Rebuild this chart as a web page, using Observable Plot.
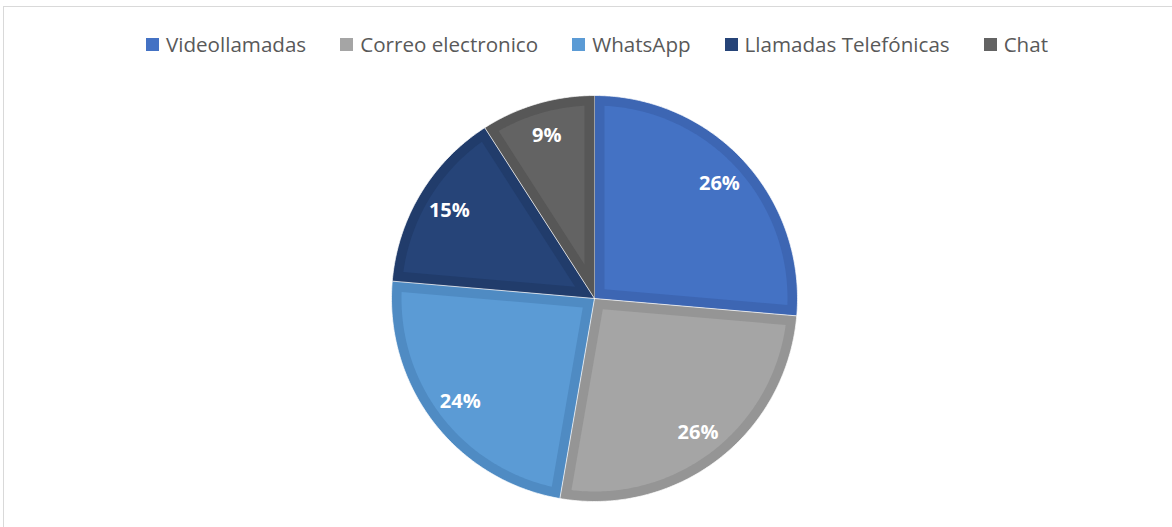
<!DOCTYPE html>
<html>
<head>
<meta charset="utf-8">
<script src="https://cdn.jsdelivr.net/npm/d3@7"></script>
<script src="https://cdn.jsdelivr.net/npm/@observablehq/plot@0.6"></script>
<style>
  html, body { margin: 0; padding: 0; background: #fff; }
  #wrap { position: relative; width: 1172px; height: 527px; overflow: hidden; background: #fff; }
  #frame { position: absolute; left: 3px; top: 6px; width: 1200px; height: 600px; border: 1.5px solid #d9d9d9; box-sizing: border-box; }
  #legend { position: absolute; top: 30px; left: 11px; width: 1172px; display: flex; justify-content: center; gap: 34px;
            font-family: "Open Sans", sans-serif; font-size: 20.6px; color: #595959; }
  .item { display: flex; align-items: center; gap: 7px; white-space: nowrap; }
  .sw { width: 13px; height: 13px; display: inline-block; }
  #chart { position: absolute; left: 0; top: 0; }
</style>
</head>
<body>
<div id="wrap">
  <div id="frame"></div>
  <div id="chart"></div>
  <div id="legend"></div>
</div>
<script>
const categories = ["Videollamadas", "Correo electronico", "WhatsApp", "Llamadas Telefónicas", "Chat"];
const values = [29, 29, 26, 16, 10];
const innerColors = ["#4472C4", "#A5A5A5", "#5B9BD5", "#264478", "#636363"];
const outerColors = ["#3D66B3", "#959595", "#4F8BC3", "#213C6B", "#575757"];

const W = 1172, H = 527;
const cx = 594, cy = 298, R = 203; // pixel layout of the pie
const inset = 10 / R;
const labelR = 0.835;

const total = d3.sum(values);
const arcs = d3.pie().sort(null).value(d => d)(values);

function pt(a, r) { return [Math.sin(a) * r, Math.cos(a) * r]; }

const outerPts = [], innerPts = [], labels = [];
arcs.forEach((a, i) => {
  const cat = categories[i];
  const a0 = a.startAngle, a1 = a.endAngle;
  outerPts.push({cat, x: 0, y: 0});
  const n = Math.max(8, Math.ceil((a1 - a0) * 80));
  for (let k = 0; k <= n; k++) {
    const t = a0 + (a1 - a0) * k / n;
    const [x, y] = pt(t, 1);
    outerPts.push({cat, x, y});
  }
  const half = (a1 - a0) / 2;
  const apexD = inset / Math.sin(half);
  const [ax, ay] = pt(a0 + half, apexD);
  innerPts.push({cat, x: ax, y: ay});
  const rr = 1 - inset;
  const da = Math.asin(inset / rr);
  const b0 = a0 + da, b1 = a1 - da;
  for (let k = 0; k <= n; k++) {
    const t = b0 + (b1 - b0) * k / n;
    const [x, y] = pt(t, rr);
    innerPts.push({cat, x, y});
  }
  const [lx, ly] = pt(a0 + half, labelR);
  labels.push({cat, x: lx, y: ly, text: Math.round(values[i] / total * 100) + "%"});
});

const marks = [];
categories.forEach((c, i) => {
  marks.push(Plot.line(outerPts.filter(d => d.cat === c), {x: "x", y: "y", fill: outerColors[i], stroke: "#ffffff", strokeWidth: 1, strokeOpacity: 0.7, curve: "linear"}));
  marks.push(Plot.line(innerPts.filter(d => d.cat === c), {x: "x", y: "y", fill: innerColors[i], stroke: "none", curve: "linear"}));
});
marks.push(Plot.text(labels, {x: "x", y: "y", text: "text", fill: "#ffffff", fontWeight: "bold", fontSize: 20, fontFamily: "Open Sans, sans-serif"}));

const chart = Plot.plot({
  width: W, height: H,
  margin: 0,
  style: {background: "transparent", overflow: "visible"},
  x: {domain: [-cx / R, (W - cx) / R], axis: null},
  y: {domain: [-(H - cy) / R, cy / R], axis: null},
  marks
});
document.getElementById("chart").appendChild(chart);

const legend = document.getElementById("legend");
categories.forEach((c, i) => {
  const it = document.createElement("div");
  it.className = "item";
  const sw = document.createElement("span");
  sw.className = "sw";
  sw.style.background = innerColors[i];
  const tx = document.createElement("span");
  tx.textContent = c;
  it.appendChild(sw); it.appendChild(tx);
  legend.appendChild(it);
});
</script>
</body>
</html>
